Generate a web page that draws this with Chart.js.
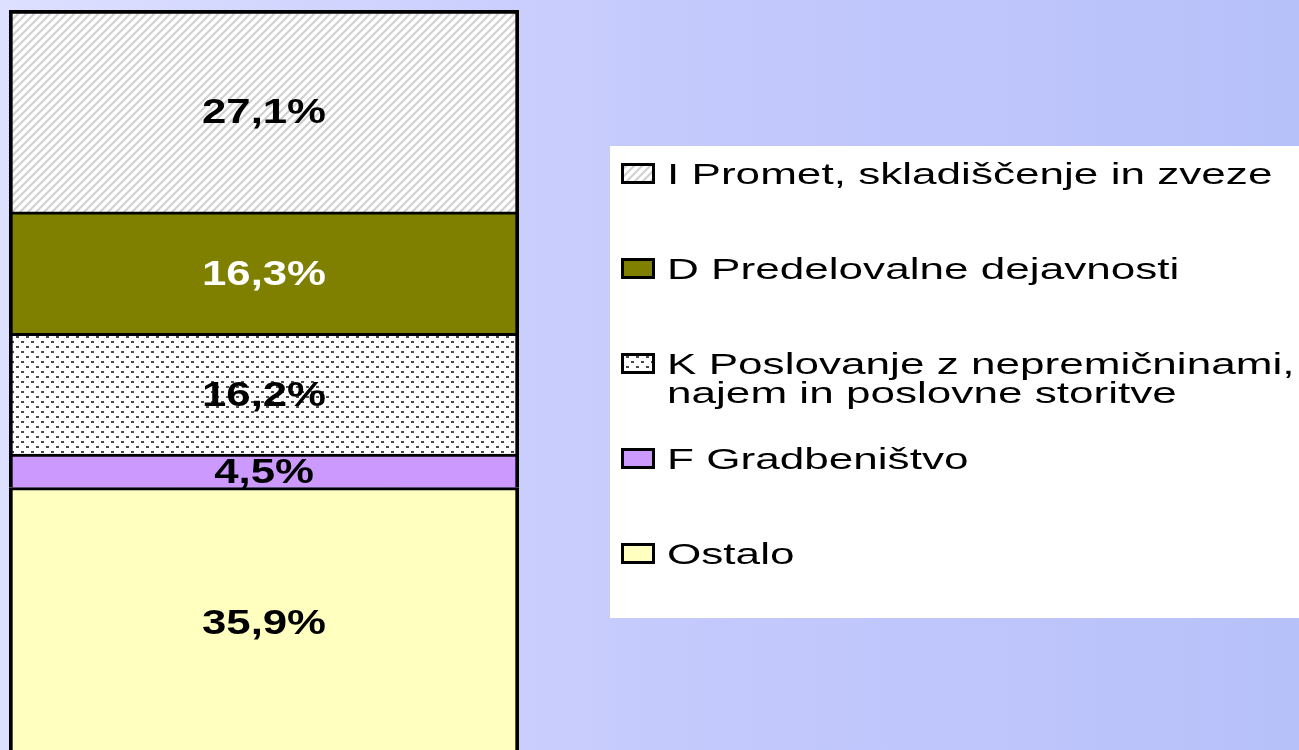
<!DOCTYPE html>
<html>
<head>
<meta charset="utf-8">
<script src="https://cdn.jsdelivr.net/npm/chart.js@4.4.1/dist/chart.umd.min.js"></script>
<style>
    html, body { margin: 0; padding: 0; width: 1299px; height: 750px; overflow: hidden; }
    body { background: linear-gradient(to right, #dde0ff 0%, #c5cafd 50%, #b7c1f9 100%); }
    .wrap { position: relative; width: 1299px; height: 770px; }
</style>
</head>
<body>
<div class="wrap"><canvas id="shareChart"></canvas></div>
<script>
    // Data (bottom to top of the stacked bar)
    const categories = [""];
    const sectors = ["Ostalo", "F Gradbeništvo", "K Poslovanje z nepremičninami,\nnajem in poslovne storitve", "D Predelovalne dejavnosti", "I Promet, skladiščenje in zveze"];
    const shares = [35.9, 4.5, 16.2, 16.3, 27.1];
    const shareLabels = ["35,9%", "4,5%", "16,2%", "16,3%", "27,1%"];

    // Fill patterns
    function hatchPattern() {
        const c = document.createElement("canvas");
        c.width = 8; c.height = 8;
        const g = c.getContext("2d");
        g.fillStyle = "#ffffff";
        g.fillRect(0, 0, 8, 8);
        g.strokeStyle = "#d0d0d0";
        g.lineWidth = 2.2;
        g.beginPath();
        g.moveTo(-2, 10); g.lineTo(10, -2);
        g.moveTo(-2, 2); g.lineTo(2, -2);
        g.moveTo(6, 10); g.lineTo(10, 6);
        g.stroke();
        return g.createPattern(c, "repeat");
    }
    function dotPattern() {
        const c = document.createElement("canvas");
        c.width = 10; c.height = 10;
        const g = c.getContext("2d");
        g.fillStyle = "#ffffff";
        g.fillRect(0, 0, 10, 10);
        g.fillStyle = "#4a4a4a";
        g.fillRect(1, 1, 3, 2);
        g.fillRect(6, 6, 3, 2);
        return g.createPattern(c, "repeat");
    }

    const fills = ["#ffffc0", "#cc99ff", dotPattern(), "#808000", hatchPattern()];
    const textColors = ["#000000", "#000000", "#000000", "#ffffff", "#000000"];

    // value labels inside the segments
    const segmentLabels = {
        id: "segmentLabels",
        afterDatasetsDraw(chart) {
            const ctx = chart.ctx;
            chart.data.datasets.forEach((ds, i) => {
                const el = chart.getDatasetMeta(i).data[0];
                const cy = (el.y + el.base) / 2;
                ctx.save();
                ctx.translate(el.x, cy + 12.5);
                ctx.scale(1.25, 1);
                ctx.font = "bold 35px 'Liberation Sans', Arial, sans-serif";
                ctx.textAlign = "center";
                ctx.textBaseline = "alphabetic";
                ctx.fillStyle = textColors[i];
                ctx.fillText(shareLabels[i], 0, 0);
                ctx.restore();
            });
        }
    };

    // legend in a white box on the right
    const boxLegend = {
        id: "boxLegend",
        afterDraw(chart) {
            const ctx = chart.ctx;
            ctx.save();
            ctx.fillStyle = "#ffffff";
            ctx.fillRect(610, 146, 700, 472);
            const n = chart.data.datasets.length;
            for (let k = 0; k < n; k++) {
                const i = n - 1 - k;
                const ds = chart.data.datasets[i];
                const base = 184 + 95 * k;
                ctx.fillStyle = ds.backgroundColor;
                ctx.fillRect(621, base - 21, 34, 21);
                ctx.lineWidth = 3;
                ctx.strokeStyle = "#000000";
                ctx.strokeRect(622.5, base - 19.5, 31, 18);
                ctx.fillStyle = "#000000";
                ctx.font = "30px 'Liberation Sans', Arial, sans-serif";
                ctx.textAlign = "left";
                ctx.textBaseline = "alphabetic";
                ds.label.split("\n").forEach((line, j) => {
                    ctx.save();
                    ctx.translate(667, base + 29 * j);
                    ctx.scale(1.47, 1);
                    ctx.fillText(line, 0, 0);
                    ctx.restore();
                });
            }
            ctx.restore();
        }
    };

    new Chart(document.getElementById("shareChart"), {
        type: "bar",
        data: {
            labels: categories,
            datasets: shares.map((v, i) => ({
                label: sectors[i],
                data: [v],
                backgroundColor: fills[i],
                borderColor: "#000000",
                borderWidth: { top: i === shares.length - 1 ? 4 : 3, left: 4, right: 4, bottom: 0 },
                borderSkipped: false,
                barPercentage: 1,
                categoryPercentage: 1
            }))
        },
        options: {
            responsive: true,
            maintainAspectRatio: false,
            animation: false,
            devicePixelRatio: 1,
            layout: { padding: { left: 9, right: 780, top: 10, bottom: 15 } },
            scales: {
                x: { stacked: true, display: false },
                y: { stacked: true, display: false, min: 0, max: 100 }
            },
            plugins: {
                legend: { display: false },
                tooltip: { enabled: false }
            }
        },
        plugins: [segmentLabels, boxLegend]
    });
</script>
</body>
</html>
